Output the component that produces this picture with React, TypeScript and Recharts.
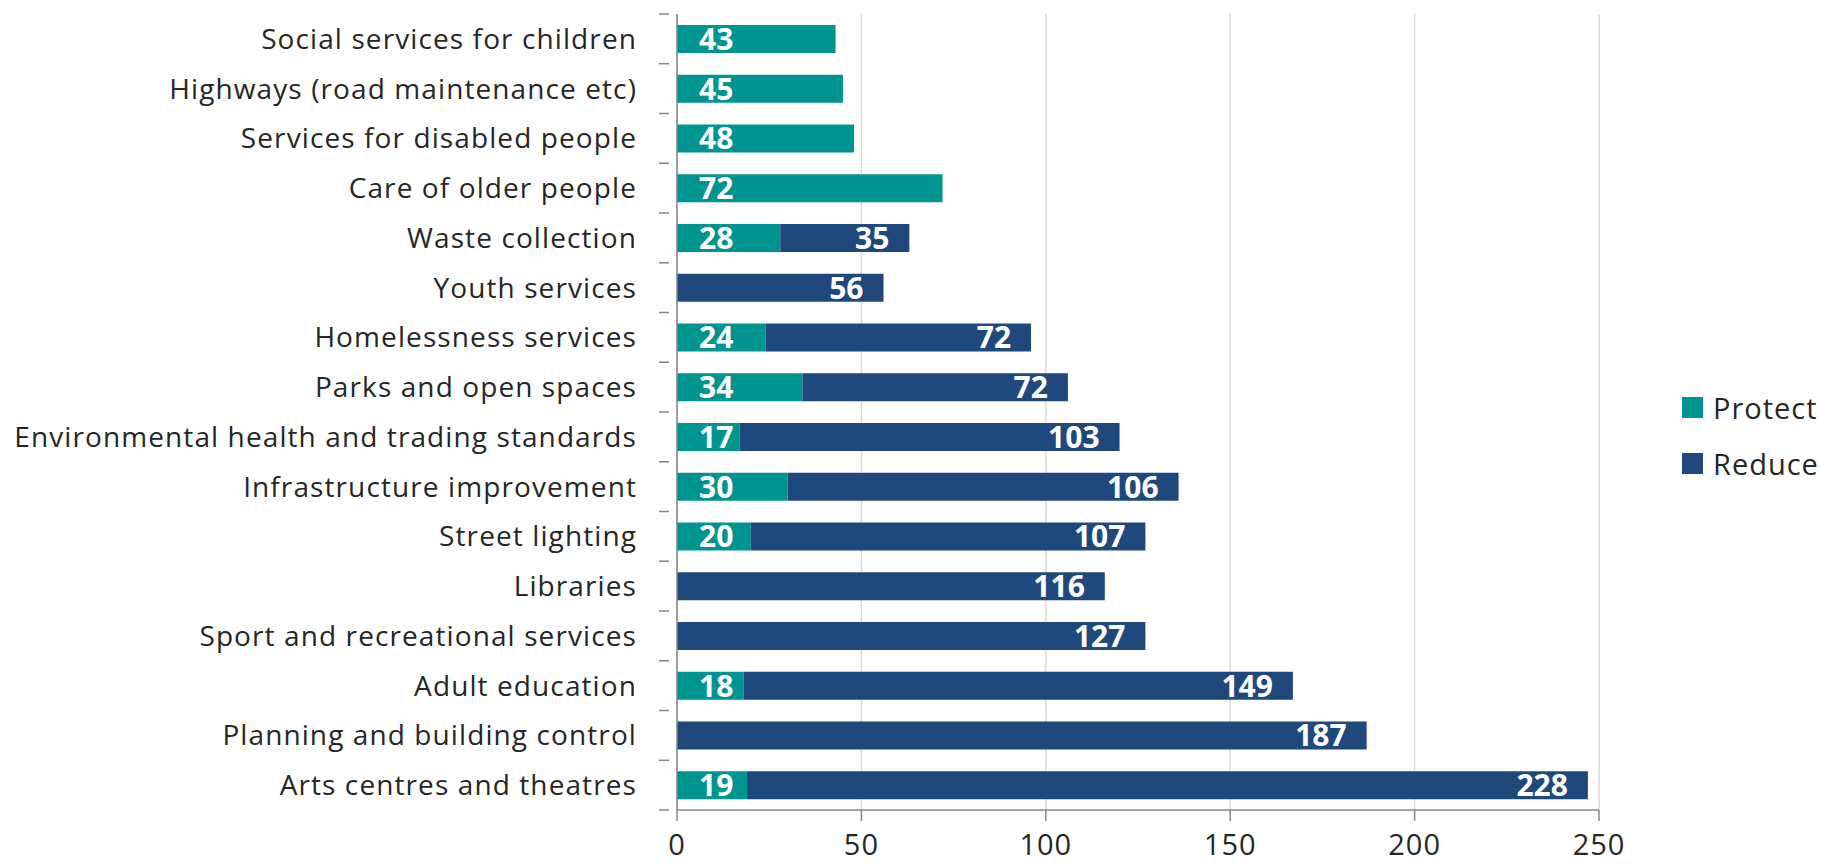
import React from 'react';
import { BarChart, Bar, XAxis, YAxis, CartesianGrid, LabelList } from 'recharts';

const categories = [
  'Social services for children',
  'Highways (road maintenance etc)',
  'Services for disabled people',
  'Care of older people',
  'Waste collection',
  'Youth services',
  'Homelessness services',
  'Parks and open spaces',
  'Environmental health and trading standards',
  'Infrastructure improvement',
  'Street lighting',
  'Libraries',
  'Sport and recreational services',
  'Adult education',
  'Planning and building control',
  'Arts centres and theatres',
];

const protectValues = [43, 45, 48, 72, 28, 0, 24, 34, 17, 30, 20, 0, 0, 18, 0, 19];
const reduceValues = [0, 0, 0, 0, 35, 56, 72, 72, 103, 106, 107, 116, 127, 149, 187, 228];
const xTicks = [0, 50, 100, 150, 200, 250];

const data = categories.map((name, i) => ({
  name,
  protect: protectValues[i],
  reduce: reduceValues[i],
}));

const PROTECT = '#009491';
const REDUCE = '#1F497D';
const AXIS = '#868686';
const TEXT = '#262626';
const FONT = '"Open Sans", sans-serif';

const W = 1821;
const H = 864;
const TOP = 14;
const PLOT_BOTTOM = 810;
const Y_WIDTH = 677;
const BAND = (PLOT_BOTTOM - TOP) / categories.length;

const CategoryTick = (props: any) => {
  const { x, y, payload, index } = props;
  const last = index === categories.length - 1;
  return (
    <g>
      <line x1={x - 10} x2={x} y1={y - BAND / 2} y2={y - BAND / 2} stroke={AXIS} strokeWidth={1.5} />
      {last && (
        <line x1={x - 10} x2={x} y1={y + BAND / 2} y2={y + BAND / 2} stroke={AXIS} strokeWidth={1.5} />
      )}
      <text
        x={x - 32}
        y={y}
        dy="0.36em"
        textAnchor="end"
        fill={TEXT}
        fontFamily={FONT}
        fontSize={28}
        letterSpacing={1.1}
      >
        {payload.value}
      </text>
    </g>
  );
};

const ValueTick = (props: any) => {
  const { x, y, payload } = props;
  return (
    <text
      x={x}
      y={y}
      dy={32}
      textAnchor="middle"
      fill={TEXT}
      fontFamily={FONT}
      fontSize={29}
      letterSpacing={1}
    >
      {payload.value}
    </text>
  );
};

const protectLabel = (props: any) => {
  const { x, y, height, value } = props;
  if (!value) return null;
  return (
    <text x={x + 22} y={y + height / 2} dy="0.36em" fill="#fff" fontFamily={FONT} fontWeight={700} fontSize={30}>
      {value}
    </text>
  );
};

const reduceLabel = (props: any) => {
  const { x, y, width, height, value } = props;
  if (!value) return null;
  return (
    <text
      x={x + width - 20}
      y={y + height / 2}
      dy="0.36em"
      textAnchor="end"
      fill="#fff"
      fontFamily={FONT}
      fontWeight={700}
      fontSize={30}
    >
      {value}
    </text>
  );
};

const legendItems = [
  { label: 'Protect', color: PROTECT },
  { label: 'Reduce', color: REDUCE },
];

export default function App() {
  return (
    <div style={{ position: 'absolute', left: 0, top: 0, width: W, height: H, background: '#fff' }}>
      <BarChart
        width={W}
        height={H}
        data={data}
        layout="vertical"
        margin={{ top: TOP, right: 222, bottom: 0, left: 0 }}
      >
        <CartesianGrid horizontal={false} stroke="#d9d9d9" strokeWidth={1.5} />
        <XAxis
          type="number"
          domain={[0, 250]}
          ticks={xTicks}
          height={H - PLOT_BOTTOM}
          stroke={AXIS}
          strokeWidth={1.5}
          tickSize={11}
          tick={<ValueTick />}
          interval={0}
        />
        <YAxis
          type="category"
          dataKey="name"
          width={Y_WIDTH}
          stroke={AXIS}
          strokeWidth={1.5}
          tickLine={false}
          tick={<CategoryTick />}
          interval={0}
        />
        <Bar dataKey="protect" name="Protect" stackId="a" fill={PROTECT} barSize={28} isAnimationActive={false}>
          <LabelList dataKey="protect" content={protectLabel} />
        </Bar>
        <Bar dataKey="reduce" name="Reduce" stackId="a" fill={REDUCE} barSize={28} isAnimationActive={false}>
          <LabelList dataKey="reduce" content={reduceLabel} />
        </Bar>
      </BarChart>
      <div
        style={{
          position: 'absolute',
          left: 1682,
          top: 379,
          fontFamily: FONT,
          fontSize: 29,
          letterSpacing: 1,
          color: TEXT,
        }}
      >
        {legendItems.map((item) => (
          <div key={item.label} style={{ display: 'flex', alignItems: 'center', height: 56 }}>
            <div style={{ width: 21, height: 21, background: item.color, marginRight: 10 }} />
            <span>{item.label}</span>
          </div>
        ))}
      </div>
    </div>
  );
}
